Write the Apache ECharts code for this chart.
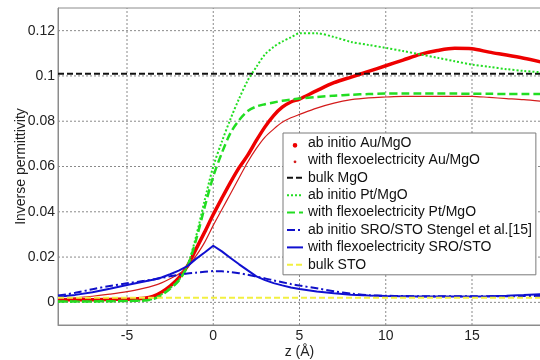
<!DOCTYPE html>
<html>
<head>
<meta charset="utf-8">
<script src="https://cdn.jsdelivr.net/npm/echarts@6/dist/echarts.min.js"></script>
<style>
  html, body { margin: 0; padding: 0; background: #fff; }
  #chart { width: 540px; height: 360px; }
</style>
</head>
<body>
<div id="chart"></div>
<script>
// z positions (Å) shared by all curves
const zVals = [-9, -8, -7, -6, -5, -4, -3.5, -3, -2.5, -2, -1.5, -1, -0.5, 0, 0.5, 1, 1.5, 2, 2.5, 3, 3.5, 4, 4.5, 5, 6, 7, 8, 9, 10, 11, 12, 13, 14, 15, 16, 17, 18, 19];

const abInitioAu = [0.0012, 0.0012, 0.0012, 0.0013, 0.0014, 0.0018, 0.0026, 0.0045, 0.0072, 0.0108, 0.016, 0.0235, 0.031, 0.0388, 0.046, 0.053, 0.0595, 0.065, 0.0715, 0.0775, 0.0825, 0.0862, 0.0885, 0.0898, 0.0935, 0.097, 0.0995, 0.102, 0.1045, 0.107, 0.1095, 0.1112, 0.1122, 0.112, 0.1105, 0.1092, 0.1078, 0.1062];
const flexoAu = [0.0015, 0.002, 0.0027, 0.0036, 0.0047, 0.0063, 0.0073, 0.0086, 0.0104, 0.0125, 0.0153, 0.0205, 0.0265, 0.034, 0.041, 0.048, 0.055, 0.062, 0.068, 0.073, 0.0765, 0.0795, 0.0815, 0.083, 0.0858, 0.088, 0.0895, 0.0903, 0.0907, 0.091, 0.091, 0.091, 0.091, 0.091, 0.0905, 0.09, 0.0895, 0.0888];
const abInitioPt = [0.0004, 0.0004, 0.0004, 0.0005, 0.0006, 0.0008, 0.0015, 0.0035, 0.0063, 0.0098, 0.0162, 0.029, 0.045, 0.06, 0.071, 0.081, 0.09, 0.098, 0.104, 0.1095, 0.1128, 0.1152, 0.117, 0.1188, 0.1188, 0.1172, 0.115, 0.1137, 0.1124, 0.111, 0.1095, 0.108, 0.1065, 0.105, 0.104, 0.103, 0.1022, 0.1016];
const flexoPt = [0.0004, 0.0004, 0.0004, 0.0005, 0.0006, 0.0008, 0.0014, 0.0032, 0.006, 0.0096, 0.0158, 0.0275, 0.042, 0.0556, 0.066, 0.0748, 0.0805, 0.0845, 0.0865, 0.0875, 0.0883, 0.089, 0.0895, 0.09, 0.0907, 0.0913, 0.0917, 0.092, 0.0922, 0.0922, 0.0922, 0.0922, 0.0922, 0.0921, 0.0921, 0.092, 0.092, 0.092];
const abInitioSro = [0.003, 0.0042, 0.0058, 0.0072, 0.0084, 0.0095, 0.0101, 0.0108, 0.0115, 0.0122, 0.0127, 0.0131, 0.0135, 0.0138, 0.0137, 0.0134, 0.0129, 0.0122, 0.0114, 0.0106, 0.0097, 0.0089, 0.0081, 0.0074, 0.0062, 0.0049, 0.0039, 0.0032, 0.0029, 0.0028, 0.0027, 0.0027, 0.0027, 0.0027, 0.0027, 0.0027, 0.0028, 0.0028];
const flexoSro = [0.0025, 0.0033, 0.0045, 0.006, 0.0077, 0.0092, 0.01, 0.011, 0.0124, 0.014, 0.016, 0.0192, 0.022, 0.025, 0.0225, 0.0196, 0.0168, 0.0141, 0.0115, 0.0098, 0.0085, 0.0075, 0.0066, 0.0059, 0.0048, 0.004, 0.0034, 0.003, 0.0028, 0.0027, 0.0026, 0.0026, 0.0026, 0.0026, 0.0027, 0.0029, 0.0032, 0.0036];

const bulkZ = [-9, 19];
const bulkMgO = [0.101, 0.101];
const bulkSTO = [0.002, 0.002];

const xTicks = [-5, 0, 5, 10, 15];
const yTicks = [0, 0.02, 0.04, 0.06, 0.08, 0.1, 0.12];
const xRange = [-9, 19];
const yRange = [-0.01, 0.13];

const names = [
  'ab initio Au/MgO',
  'with flexoelectricity Au/MgO',
  'bulk MgO',
  'ab initio Pt/MgO',
  'with flexoelectricity Pt/MgO',
  'ab initio SRO/STO Stengel et al.[15]',
  'with flexoelectricity SRO/STO',
  'bulk STO'
];

const pairs = (xs, ys) => xs.map((x, i) => [x, ys[i]]);
const FONT = '"Liberation Sans", Arial, sans-serif';

const chart = echarts.init(document.getElementById('chart'), null, { renderer: 'canvas' });

function lineSeries(name, xs, ys, color, width, type, smooth) {
  return {
    name,
    type: 'line',
    data: pairs(xs, ys),
    symbol: 'none',
    smooth: smooth,
    color,
    lineStyle: { color, width, type },
    z: 3
  };
}

// MATLAB-style dotted grid: one thin line per tick value
function gridLine(data) {
  return {
    type: 'line',
    data,
    symbol: 'none',
    silent: true,
    z: 1,
    color: '#8a8a8a',
    lineStyle: { color: '#8a8a8a', width: 1, type: [2, 2] }
  };
}
const gridLines = xTicks.map(v => gridLine([[v, yRange[0]], [v, yRange[1]]]))
  .concat(yTicks.map(v => gridLine([[xRange[0], v], [xRange[1], v]])));

const lineItem = name => ({ name, itemStyle: { opacity: 0 } });

const option = {
  backgroundColor: '#fff',
  animation: false,
  textStyle: { fontFamily: FONT },
  grid: {
    left: 58, right: -1, top: 8, bottom: 35,
    containLabel: false,
    outerBoundsMode: 'none',
    show: true, borderColor: '#8c8c8c', borderWidth: 1, backgroundColor: '#fff'
  },
  xAxis: {
    type: 'value',
    min: xRange[0], max: xRange[1],
    name: 'z (Å)',
    nameLocation: 'middle',
    nameGap: 20,
    nameMoveOverlap: false,
    nameTextStyle: { color: '#222', fontSize: 14, fontFamily: FONT },
    axisLine: { show: true, onZero: false, lineStyle: { color: '#8c8c8c' } },
    axisTick: { show: false },
    axisLabel: { customValues: xTicks, color: '#222', fontSize: 14, fontFamily: FONT, margin: 4 },
    splitLine: { show: false }
  },
  yAxis: {
    type: 'value',
    min: yRange[0], max: yRange[1],
    name: 'Inverse permittivity',
    nameLocation: 'middle',
    nameGap: 30,
    nameMoveOverlap: false,
    nameTextStyle: { color: '#222', fontSize: 14, fontFamily: FONT },
    axisLine: { show: true, onZero: false, lineStyle: { color: '#8c8c8c' } },
    axisTick: { show: false },
    axisLabel: { customValues: yTicks, color: '#222', fontSize: 14, fontFamily: FONT, margin: 3 },
    splitLine: { show: false }
  },
  legend: {
    orient: 'vertical',
    left: 283, top: 133,
    padding: [3, 4, 3, 3],
    backgroundColor: '#fff',
    borderColor: '#7a7a7a',
    borderWidth: 1,
    itemWidth: 16,
    itemHeight: 14,
    itemGap: 3.4,
    textStyle: { color: '#111', fontSize: 14, fontFamily: FONT, lineHeight: 14 },
    data: [
      { name: names[0], icon: 'path://M0,0 M3,3 a1,1 0 1,0 0.01,0 z M6,6' },
      { name: names[1], icon: 'path://M0,0 M3,3 a0.6,0.6 0 1,0 0.01,0 z M6,6' },
      lineItem(names[2]), lineItem(names[3]), lineItem(names[4]),
      lineItem(names[5]), lineItem(names[6]), lineItem(names[7])
    ]
  },
  series: gridLines.concat([
    lineSeries(names[0], zVals, abInitioAu, '#ee0000', 3.5, 'solid', 0.3),
    lineSeries(names[1], zVals, flexoAu, '#d41c1c', 1.2, 'solid', 0.3),
    lineSeries(names[2], bulkZ, bulkMgO, '#111111', 2, [6, 3], false),
    lineSeries(names[3], zVals, abInitioPt, '#22dd22', 2, [2, 2], 0.3),
    lineSeries(names[4], zVals, flexoPt, '#22dd22', 2.5, [8, 4], 0.3),
    lineSeries(names[5], zVals, abInitioSro, '#1010c8', 2, [8, 3, 2, 3], 0.3),
    lineSeries(names[6], zVals, flexoSro, '#1010d0', 2, 'solid', false),
    lineSeries(names[7], bulkZ, bulkSTO, '#f2f040', 2, [6, 3], false)
  ])
};

chart.setOption(option);
</script>
</body>
</html>
